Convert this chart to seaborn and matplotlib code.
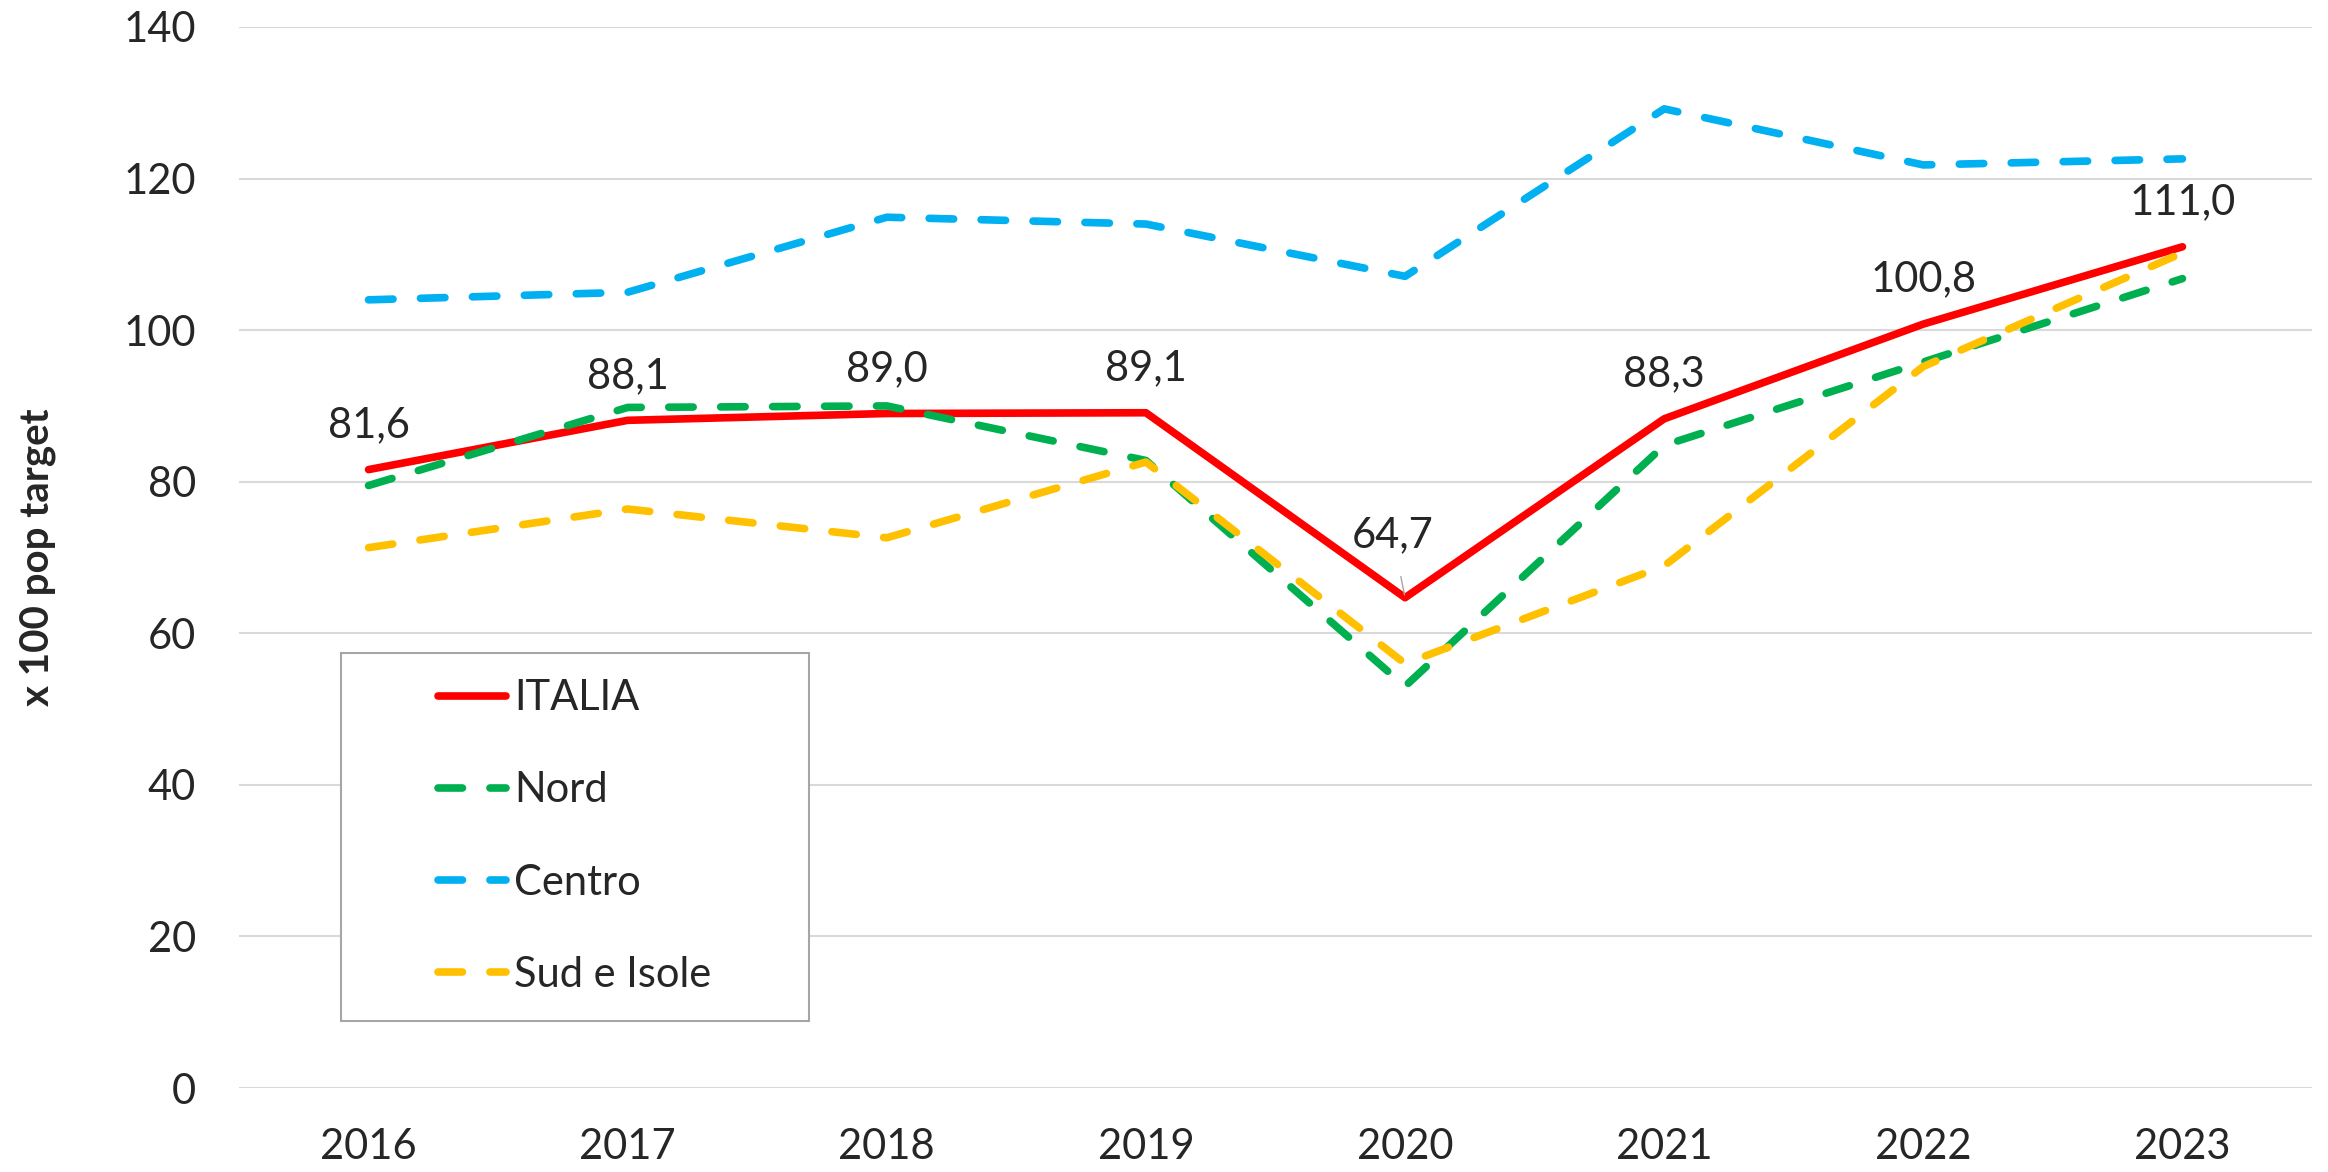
import matplotlib
matplotlib.use("Agg")
import matplotlib.pyplot as plt
from matplotlib.patches import Rectangle
import seaborn as sns
import pandas as pd

years = ["2016", "2017", "2018", "2019", "2020", "2021", "2022", "2023"]
italia = [81.6, 88.1, 89.0, 89.1, 64.7, 88.3, 100.8, 111.0]
nord = [79.5, 89.8, 90.0, 82.8, 53.0, 84.8, 95.8, 106.8]
centro = [104.0, 105.0, 114.9, 114.0, 107.1, 129.2, 121.8, 122.6]
sud = [71.3, 76.4, 72.6, 82.6, 56.0, 68.9, 95.2, 110.2]

names = ["ITALIA", "Nord", "Centro", "Sud e Isole"]
palette = {"ITALIA": "#FF0000", "Nord": "#00B050", "Centro": "#00B0F0", "Sud e Isole": "#FFC000"}
dashes = {"ITALIA": "", "Nord": (3.2, 3.6), "Centro": (3.2, 3.6), "Sud e Isole": (3.2, 3.6)}

df = pd.DataFrame({
    "anno": years * 4,
    "valore": italia + nord + centro + sud,
    "area": [n for n in names for _ in years],
})

sns.set_style("white")
plt.rcParams["font.family"] = ["Lato", "DejaVu Sans"]

W, H = 2328, 1172
fig = plt.figure(figsize=(W / 100, H / 100), dpi=100)
ax = fig.add_axes([239 / W, 1 - 1088 / H, 2073 / W, 1061 / H])

sns.lineplot(data=df, x="anno", y="valore", hue="area", style="area",
             palette=palette, dashes=dashes, linewidth=5.5, sort=False, ax=ax)

for line in ax.lines:
    line.set_dash_capstyle("round")
    line.set_solid_capstyle("round")
    line.set_solid_joinstyle("round")

ax.set_xlim(-0.5, len(years) - 0.5)
ax.set_ylim(0, 140)
ax.set_yticks(range(0, 141, 20))
ax.yaxis.grid(True, color="#D9D9D9", linewidth=1.5)
ax.xaxis.grid(False)
for s in ax.spines.values():
    s.set_visible(False)
ax.tick_params(axis="both", length=0, labelsize=30)
ax.tick_params(axis="y", pad=31)
ax.tick_params(axis="x", pad=29)
ax.set_xlabel("")
ax.set_ylabel("x 100 pop target", fontsize=29, fontweight="bold")
ax.yaxis.set_label_coords(-(239 - 56) / 2073, 0.5)

# etichette ITALIA
for i, v in enumerate(italia):
    txt = f"{v:.1f}".replace(".", ",")
    if years[i] == "2020":
        ax.annotate(txt, (i, v), xytext=(-9, 45), textcoords="offset points",
                    ha="center", va="center", fontsize=30,
                    arrowprops=dict(arrowstyle="-", color="#A6A6A6", lw=1, shrinkA=14, shrinkB=2))
    else:
        ax.annotate(txt, (i, v), xytext=(0, 32), textcoords="offset points",
                    ha="center", va="center", fontsize=30)

# riquadro legenda
ax.add_patch(Rectangle((0.0492, 0.063), 0.2258, 0.347, transform=ax.transAxes,
                       facecolor="white", edgecolor="#A6A6A6", linewidth=1.5, zorder=4))

handles, labels = ax.get_legend_handles_labels()
for h in handles:
    h.set_dash_capstyle("round")
    h.set_solid_capstyle("round")
leg = ax.legend(handles, labels, loc="center left", bbox_to_anchor=(0.096, 0.237),
                fontsize=30, frameon=False, handlelength=1.63, handletextpad=0.2,
                labelspacing=1.3, borderpad=0, borderaxespad=0)
leg.set_zorder(5)

fig.savefig("out.png", dpi=100)
